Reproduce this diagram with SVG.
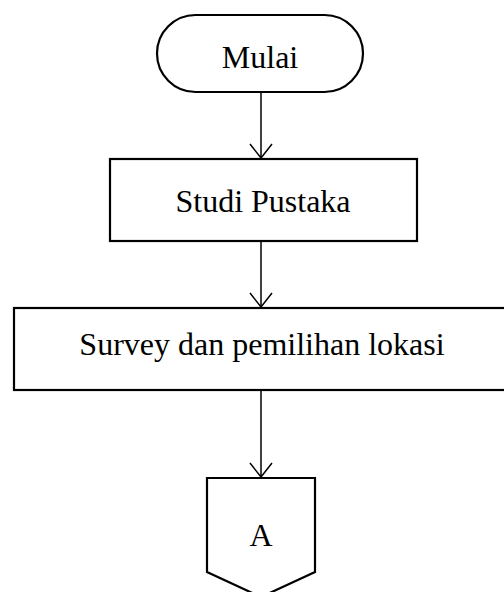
<svg xmlns="http://www.w3.org/2000/svg" width="504" height="592" viewBox="0 0 504 592">
<style>
.shape{fill:#fff;stroke:#000;stroke-width:2.2}
.lbl{font-family:"Liberation Serif","Times New Roman",serif;font-size:32px;fill:#000;text-anchor:middle}
.conn{stroke:#000;stroke-width:1.5;fill:none}
</style>
<rect width="504" height="592" fill="#fff"/>
<g id="connectors">
<line class="conn" x1="261" y1="92" x2="261" y2="158"/>
<line class="conn" x1="261" y1="241" x2="261" y2="307"/>
<line class="conn" x1="261" y1="390" x2="261" y2="477"/>
<path class="conn" d="M250,144 L261,158 L272,144"/>
<path class="conn" d="M250,293 L261,307 L272,293"/>
<path class="conn" d="M250,463 L261,477 L272,463"/>
</g>
<g id="mulai">
<rect class="shape" x="157" y="15" width="206" height="77" rx="38.5" ry="38.5"/>
<text class="lbl" x="260" y="68">Mulai</text>
</g>
<g id="studi">
<rect class="shape" x="110" y="159" width="307" height="82"/>
<text class="lbl" x="263" y="212">Studi Pustaka</text>
</g>
<g id="survey">
<rect class="shape" x="14" y="308" width="494" height="82"/>
<text class="lbl" x="262" y="355">Survey dan pemilihan lokasi</text>
</g>
<g id="a">
<path class="shape" d="M207,478 L315,478 L315,572 L261,597 L207,572 Z"/>
<text class="lbl" x="261" y="546">A</text>
</g>
</svg>
